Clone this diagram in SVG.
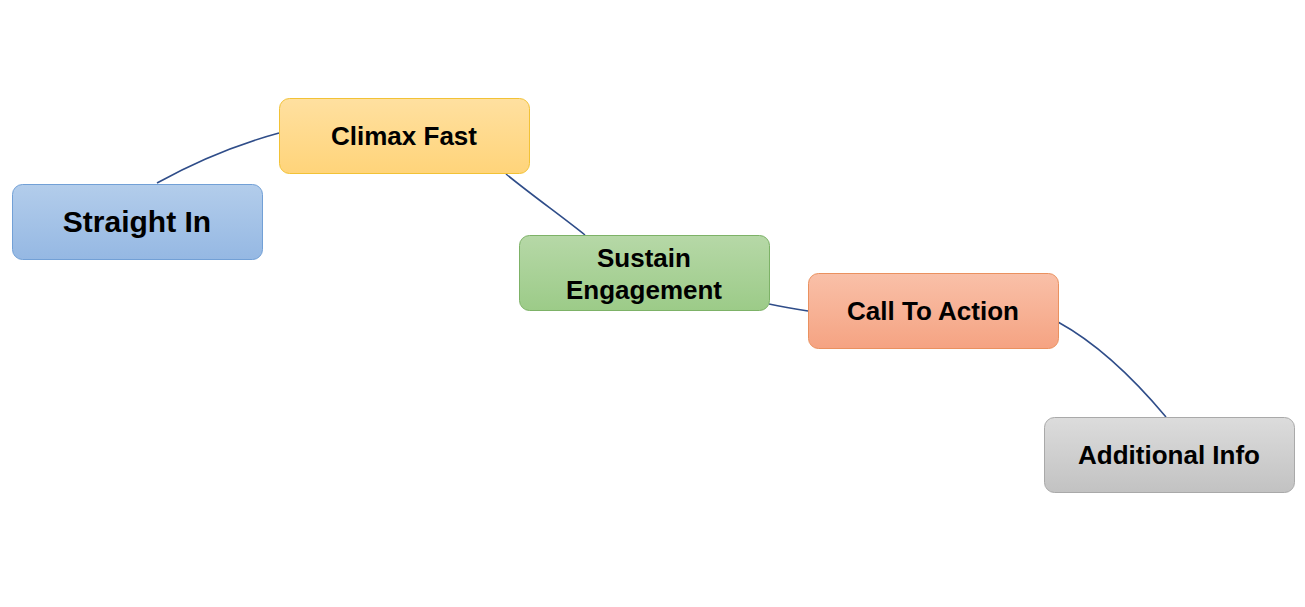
<svg xmlns="http://www.w3.org/2000/svg" width="1305" height="607" viewBox="0 0 1305 607">
<style>
.node{stroke-width:1}
.lbl{font-family:"Liberation Sans",Arial,sans-serif;font-weight:bold;font-size:26px;fill:#000;text-anchor:middle}
.conn{fill:none;stroke:#2f4d89;stroke-width:1.6}
</style>
<defs>
<linearGradient id="gBlue" x1="0" y1="0" x2="0" y2="1"><stop offset="0" stop-color="#b3cdeb"/><stop offset="1" stop-color="#95b8e3"/></linearGradient>
<linearGradient id="gYellow" x1="0" y1="0" x2="0" y2="1"><stop offset="0" stop-color="#ffe0a0"/><stop offset="1" stop-color="#ffd47a"/></linearGradient>
<linearGradient id="gGreen" x1="0" y1="0" x2="0" y2="1"><stop offset="0" stop-color="#b6d8a7"/><stop offset="1" stop-color="#9ccb88"/></linearGradient>
<linearGradient id="gOrange" x1="0" y1="0" x2="0" y2="1"><stop offset="0" stop-color="#f9c0a8"/><stop offset="1" stop-color="#f5a382"/></linearGradient>
<linearGradient id="gGrey" x1="0" y1="0" x2="0" y2="1"><stop offset="0" stop-color="#dcdcdc"/><stop offset="1" stop-color="#c2c2c2"/></linearGradient>
</defs>
<rect width="1305" height="607" fill="#fff"/>
<g id="connectors">
<path class="conn" d="M157,183 C195,162 235,145 279,133"/>
<path class="conn" d="M506,174 C533,196 560,215 585,235"/>
<path class="conn" d="M769,304 C783,307 795,309 808,311"/>
<path class="conn" d="M1058,322 C1100,345 1135,380 1166,417"/>
</g>
<g id="node-straight-in">
<rect class="node" x="12.5" y="184.5" width="250" height="75" rx="10" fill="url(#gBlue)" stroke="#72a0d6"/>
<text class="lbl" x="137" y="232" style="font-size:30px">Straight In</text>
</g>
<g id="node-climax-fast">
<rect class="node" x="279.5" y="98.5" width="250" height="75" rx="10" fill="url(#gYellow)" stroke="#f2c236"/>
<text class="lbl" x="404" y="145">Climax Fast</text>
</g>
<g id="node-sustain-engagement">
<rect class="node" x="519.5" y="235.5" width="250" height="75" rx="10" fill="url(#gGreen)" stroke="#7db267"/>
<text class="lbl" x="644" y="267">Sustain</text>
<text class="lbl" x="644" y="299">Engagement</text>
</g>
<g id="node-call-to-action">
<rect class="node" x="808.5" y="273.5" width="250" height="75" rx="10" fill="url(#gOrange)" stroke="#ea915f"/>
<text class="lbl" x="933" y="320">Call To Action</text>
</g>
<g id="node-additional-info">
<rect class="node" x="1044.5" y="417.5" width="250" height="75" rx="10" fill="url(#gGrey)" stroke="#a9a9a9"/>
<text class="lbl" x="1169" y="464">Additional Info</text>
</g>
</svg>
